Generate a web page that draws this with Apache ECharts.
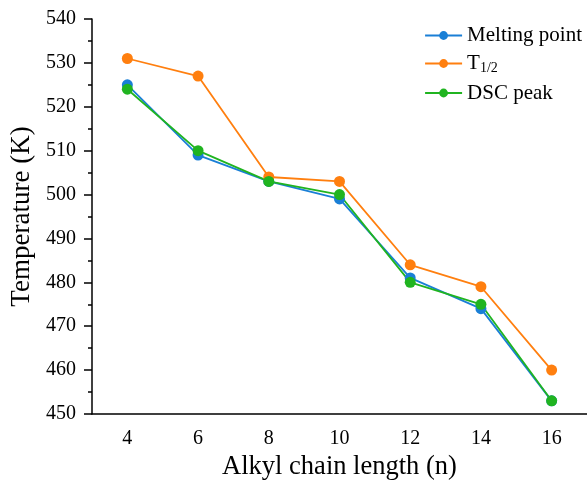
<!DOCTYPE html>
<html lang="en">
<head>
    <meta charset="UTF-8"/>
    <title>Temperature vs alkyl chain length</title>
    <script src="https://cdn.jsdelivr.net/npm/echarts@6/dist/echarts.min.js"></script>
    <style>
        html, body { margin: 0; padding: 0; background: #fff; }
        #main { width: 587px; height: 486px; }
    </style>
</head>
<body>
<div id="main"></div>
<script>
    // 数据
    var chainLength = ['4', '6', '8', '10', '12', '14', '16'];
    var meltingPoint = [525, 509, 503, 499, 481, 474, 453];
    var tHalf = [531, 527, 504, 503, 484, 479, 460];
    var dscPeak = [524, 510, 503, 500, 480, 475, 453];
    var yTicks = [450, 460, 470, 480, 490, 500, 510, 520, 530, 540];

    var font = 'Liberation Serif';
    var chart = echarts.init(document.getElementById('main'));

    function lineSeries(name, data, color) {
        return {
            name: name,
            type: 'line',
            data: data,
            xAxisIndex: 0,
            symbol: 'circle',
            symbolSize: 11,
            itemStyle: { color: color },
            lineStyle: { color: color, width: 1.8 },
            emphasis: { disabled: true }
        };
    }

    chart.setOption({
        animation: false,
        textStyle: { fontFamily: font, color: '#000' },
        grid: { left: 89, right: 0, top: 19, bottom: 65 },
        legend: {
            orient: 'vertical',
            right: 0,
            top: 20,
            itemWidth: 37,
            itemHeight: 11,
            itemGap: 7,
            textStyle: {
                fontFamily: font, fontSize: 21, color: '#000',
                rich: {
                    t: { fontFamily: font, fontSize: 21, color: '#000' },
                    s: { fontFamily: font, fontSize: 14, color: '#000', padding: [10, 0, 0, 0] }
                }
            },
            formatter: function (name) {
                return name === 'T1/2' ? '{t|T}{s|1/2}' : name;
            },
            data: ['Melting point', 'T1/2', 'DSC peak']
        },
        xAxis: [{
            type: 'category',
            data: chainLength,
            boundaryGap: true,
            name: 'Alkyl chain length (n)',
            nameLocation: 'middle',
            nameGap: 40,
            nameTextStyle: { fontFamily: font, fontSize: 26.5, color: '#000' },
            axisLine: { lineStyle: { color: '#000', width: 1.5 } },
            axisTick: { alignWithLabel: true, length: 8, lineStyle: { color: '#000', width: 1.5 } },
            axisLabel: { fontFamily: font, fontSize: 20, color: '#000', margin: 15 },
            splitLine: { show: false }
        }, {
            // 次刻度
            type: 'category',
            data: chainLength,
            position: 'bottom',
            boundaryGap: true,
            axisLine: { show: false },
            axisTick: { length: 4, lineStyle: { color: '#000', width: 1.5 } },
            axisLabel: { show: false },
            splitLine: { show: false }
        }],
        yAxis: {
            type: 'value',
            min: yTicks[0],
            max: yTicks[yTicks.length - 1],
            interval: 10,
            name: 'Temperature (K)',
            nameLocation: 'middle',
            nameGap: 57,
            nameTextStyle: { fontFamily: font, fontSize: 27, color: '#000' },
            axisLine: { show: true, lineStyle: { color: '#000', width: 1.5 } },
            axisTick: { show: true, length: 8, lineStyle: { color: '#000', width: 1.5 } },
            minorTick: { show: true, splitNumber: 2, length: 4, lineStyle: { color: '#000', width: 1.5 } },
            axisLabel: { fontFamily: font, fontSize: 20, color: '#000', margin: 16 },
            splitLine: { show: false }
        },
        series: [
            lineSeries('Melting point', meltingPoint, '#1a7fd6'),
            lineSeries('T1/2', tHalf, '#ff7f0f'),
            lineSeries('DSC peak', dscPeak, '#20b420')
        ]
    });
</script>
</body>
</html>
